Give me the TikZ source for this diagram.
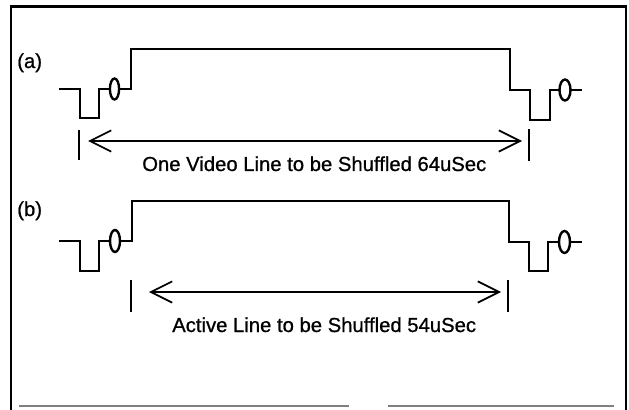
\documentclass[tikz,border=0pt]{standalone}
\usepackage{fontspec}
\setmainfont{Liberation Sans}
\newfontfamily\scanfont[FakeBold=0.8]{Liberation Sans}
\usetikzlibrary{arrows.meta}
\begin{document}
\begin{tikzpicture}[x=0.75pt,y=-0.75pt,
  wave/.style={line width=1.9pt,line join=miter},
  sync/.style={line width=1.8pt},
  tick/.style={line width=1.7pt},
  span/.style={line width=1.3pt,{Straight Barb[length=16pt,width=16pt]}-{Straight Barb[length=16pt,width=16pt]}},
  lbl/.style={font=\scanfont\fontsize{15.2}{18}\selectfont,inner sep=0pt,anchor=base west}]
\useasboundingbox (0,0) rectangle (629,410);
% frame
\draw[line width=2pt] (11,410) -- (11,6.5) -- (626,6.5) -- (626,410);
\draw[line width=1pt,gray] (19,406) -- (349,406) (388,406) -- (614,406);
% labels
\node[lbl] (la) at (17,68) {(a)};
\node[lbl] (lb) at (17,216) {(b)};
% waveform (a)
\draw[wave] (59,89) -- (80,89) -- (80,118) -- (99,118) -- (99,89) -- (110,89);
\draw[sync] (114.5,89) ellipse [x radius=4.6,y radius=10.5];
\draw[wave] (119,89) -- (131,89) -- (131,49) -- (510,49) -- (510,90) -- (530,90) -- (530,120) -- (550,120) -- (550,90) -- (559.5,90);
\draw[sync] (565,90) ellipse [x radius=5.5,y radius=10.5];
\draw[wave] (570.5,90) -- (582,90);
% span (a)
\coordinate (a1t) at (79,130); \coordinate (a1b) at (79,160);
\coordinate (a2t) at (529,129); \coordinate (a2b) at (529,161);
\draw[tick] (a1t) -- (a1b);
\draw[tick] (a2t) -- (a2b);
\coordinate (aL) at (88,141); \coordinate (aR) at (522,141);
\draw[span] (aL) -- (aR);
\node[lbl] (ta) at (142,171) {One Video Line to be Shuffled 64uSec};
% waveform (b)
\draw[wave] (59,241) -- (80,241) -- (80,271) -- (99,271) -- (99,241) -- (110,241);
\draw[sync] (115,241) ellipse [x radius=5,y radius=11];
\draw[wave] (120,241) -- (132,241) -- (132,201) -- (509,201) -- (509,242) -- (529,242) -- (529,271) -- (548,271) -- (548,242) -- (559,242);
\draw[sync] (564.5,242) ellipse [x radius=5.5,y radius=11];
\draw[wave] (570,242) -- (582,242);
% span (b)
\coordinate (b1t) at (131,280); \coordinate (b1b) at (131,312);
\coordinate (b2t) at (508,280); \coordinate (b2b) at (508,312);
\draw[tick] (b1t) -- (b1b);
\draw[tick] (b2t) -- (b2b);
\coordinate (bL) at (149,292); \coordinate (bR) at (501,292);
\draw[span] (bL) -- (bR);
\node[lbl] (tb) at (172,332) {Active Line to be Shuffled 54uSec};
\end{tikzpicture}
\end{document}
